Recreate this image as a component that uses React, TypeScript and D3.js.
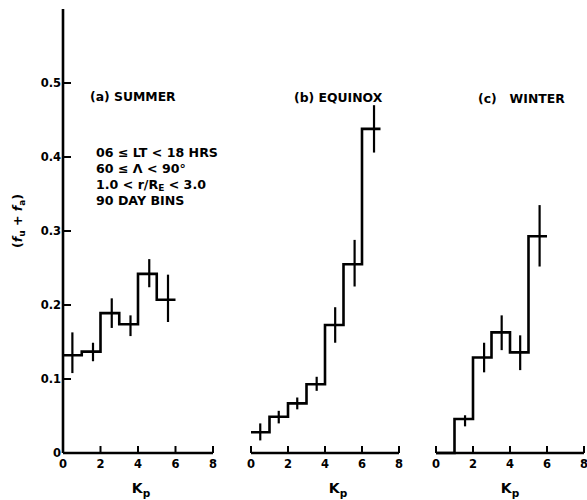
import React from "react";
import * as d3 from "d3";

// bin edges in Kp and the step levels (fu + fa)
const summerEdges = [0, 1, 2, 3, 4, 5, 6];
const summerLevels = [0.132, 0.137, 0.189, 0.174, 0.242, 0.207];
const summerErrKp = [0.5, 1.6, 2.6, 3.6, 4.6, 5.6];
const summerLow = [0.108, 0.124, 0.169, 0.158, 0.224, 0.177];
const summerHigh = [0.163, 0.149, 0.209, 0.186, 0.262, 0.241];

const equinoxEdges = [0, 1, 2, 3, 4, 5, 6, 7];
const equinoxLevels = [0.028, 0.049, 0.067, 0.093, 0.173, 0.255, 0.438];
const equinoxErrKp = [0.5, 1.5, 2.5, 3.55, 4.55, 5.6, 6.65];
const equinoxLow = [0.017, 0.04, 0.059, 0.084, 0.149, 0.225, 0.406];
const equinoxHigh = [0.04, 0.057, 0.075, 0.103, 0.197, 0.288, 0.47];

const winterEdges = [0, 1, 2, 3, 4, 5, 6];
const winterLevels = [0, 0.046, 0.129, 0.163, 0.136, 0.293];
const winterErrKp = [NaN, 1.57, 2.6, 3.55, 4.55, 5.6];
const winterLow = [NaN, 0.036, 0.109, 0.139, 0.112, 0.252];
const winterHigh = [NaN, 0.051, 0.149, 0.186, 0.159, 0.335];

const xTicks = [0, 2, 4, 6, 8];
const yTicks = [0, 0.1, 0.2, 0.3, 0.4, 0.5];
const titles = ["(a) SUMMER", "(b) EQUINOX", "(c)\u00A0\u00A0 WINTER"];
const notes = ["06 \u2264 LT < 18 HRS", "60 \u2264 \u039B < 90\u00B0", "1.0 <  r/R", "90 DAY BINS"];

const W = 587;
const H = 500;
const FONT = "'DejaVu Sans', 'Liberation Sans', Arial, sans-serif";

const y = d3.scaleLinear().domain([0, 0.6]).range([453, 9]);

const panels = [
  { x0: 63, x1: 213, edges: summerEdges, levels: summerLevels, errKp: summerErrKp, low: summerLow, high: summerHigh, title: titles[0], titleX: 90, titleY: 101, kpShift: 3 },
  { x0: 251, x1: 399, edges: equinoxEdges, levels: equinoxLevels, errKp: equinoxErrKp, low: equinoxLow, high: equinoxHigh, title: titles[1], titleX: 294, titleY: 102, kpShift: 13 },
  { x0: 436, x1: 584, edges: winterEdges, levels: winterLevels, errKp: winterErrKp, low: winterLow, high: winterHigh, title: titles[2], titleX: 478, titleY: 103, kpShift: 0 },
];

const step = d3.line<[number, number]>().curve(d3.curveStepAfter);

function Panel({ p, showY }: { p: typeof panels[number]; showY: boolean }) {
  const x = d3.scaleLinear().domain([0, 8]).range([p.x0, p.x1]);
  const pts: [number, number][] = p.levels.map((v, i) => [x(p.edges[i]), y(v)]);
  pts.push([x(p.edges[p.edges.length - 1]), y(p.levels[p.levels.length - 1])]);

  return (
    <g>
      {/* x axis */}
      <line x1={x(0)} x2={x(8)} y1={y(0)} y2={y(0)} stroke="#000" strokeWidth={2.6} />
      {xTicks.map((t) => (
        <g key={t}>
          <line x1={x(t)} x2={x(t)} y1={y(0)} y2={y(0) - 7} stroke="#000" strokeWidth={2} />
          <text x={x(t)} y={468} textAnchor="middle" fontSize={11.5} fontWeight={700}>{t}</text>
        </g>
      ))}
      <text x={x(4) + p.kpShift} y={493} textAnchor="middle" fontSize={14} fontWeight={700}>
        K<tspan fontSize={10.5} dy={4}>p</tspan>
      </text>

      {showY && (
        <g>
          <line x1={x(0)} x2={x(0)} y1={y(0)} y2={y(0.6)} stroke="#000" strokeWidth={2.6} />
          {yTicks.map((t) => (
            <g key={t}>
              <line x1={x(0)} x2={x(0) + 8} y1={y(t)} y2={y(t)} stroke="#000" strokeWidth={2} />
              <text x={x(0) - 2} y={y(t) + 4} textAnchor="end" fontSize={11.5} fontWeight={700}>
                {t === 0 ? "0" : t.toFixed(1)}
              </text>
            </g>
          ))}
        </g>
      )}

      <path d={step(pts) || ""} fill="none" stroke="#000" strokeWidth={2.6} />
      {p.errKp.map((k, i) =>
        isNaN(k) ? null : (
          <line key={i} x1={x(k)} x2={x(k)} y1={y(p.low[i])} y2={y(p.high[i])} stroke="#000" strokeWidth={2.2} />
        )
      )}

      <text x={p.titleX} y={p.titleY} fontSize={12.4} fontWeight={700}>{p.title}</text>
    </g>
  );
}

export default function App() {
  return (
    <div style={{ position: "absolute", left: 0, top: 0, background: "#fff" }}>
      <svg width={W} height={H} fontFamily={FONT} style={{ display: "block" }}>
        <rect width={W} height={H} fill="#fff" />
        {panels.map((p, i) => (
          <Panel key={i} p={p} showY={i === 0} />
        ))}

        <g fontSize={12.6} fontWeight={700}>
          <text x={96} y={157}>{notes[0]}</text>
          <text x={96} y={173}>{notes[1]}</text>
          <text x={96} y={189}>
            {notes[2]}<tspan fontSize={9} dy={2}>E</tspan><tspan dy={-2}> {"< 3.0"}</tspan>
          </text>
          <text x={96} y={205}>{notes[3]}</text>
        </g>

        <text transform="translate(22,221) rotate(-90)" textAnchor="middle" fontSize={12.5} fontWeight={700}>
          (<tspan fontStyle="italic">f</tspan><tspan fontSize={9} dy={3}>u</tspan>
          <tspan dy={-3}> + </tspan>
          <tspan fontStyle="italic">f</tspan><tspan fontSize={9} dy={3}>a</tspan>
          <tspan dy={-3}>)</tspan>
        </text>
      </svg>
    </div>
  );
}
